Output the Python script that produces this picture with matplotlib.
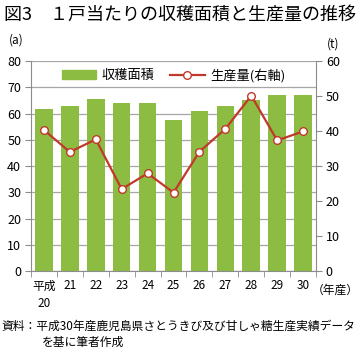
import matplotlib as mpl
mpl.use('Agg')
import matplotlib.pyplot as plt
from matplotlib.lines import Line2D
from matplotlib.patches import Patch

plt.rcParams['font.family'] = ['Noto Sans CJK JP', 'DejaVu Sans']

years = ["平成\n20", "21", "22", "23", "24", "25", "26", "27", "28", "29", "30"]
area = [61.6, 62.9, 65.4, 63.9, 64.1, 57.5, 61.0, 63.0, 65.1, 67.0, 67.0]
output_t = [40.3, 34.0, 37.6, 23.4, 27.9, 22.4, 34.1, 40.6, 50.1, 37.3, 39.9]

bar_color = '#8cbc41'
line_color = '#c0392b'
axis_gray = '#8c8c8c'

fig = plt.figure(figsize=(3.6, 3.5), dpi=100)
ax = fig.add_axes([0.086, 0.2257, 0.792, 0.6])
ax2 = ax.twinx()

x = list(range(len(years)))
ax.bar(x, area, width=0.68, color=bar_color, zorder=2)
ax2.plot(x, output_t, color=line_color, lw=1.6, marker='o', ms=5.5,
         mfc='white', mec=line_color, mew=1.0, zorder=3)

ax.set_xlim(-0.5, len(years) - 0.5)
ax.set_ylim(0, 80)
ax2.set_ylim(0, 60)
ax.set_yticks(range(0, 81, 10))
ax2.set_yticks(range(0, 61, 10))
ax.yaxis.grid(True, color='#a6a6a6', lw=0.9, zorder=0)
ax.set_axisbelow(True)

ax.set_xticks(x)
ax.set_xticklabels(years, fontsize=8.5, linespacing=1.5)
ax.set_xticks([i + 0.5 for i in range(-1, len(years))], minor=True)
ax.tick_params(axis='x', which='major', length=0, pad=6)
ax.tick_params(axis='x', which='minor', length=4, color=axis_gray)
ax.tick_params(axis='y', labelsize=9, length=4, color=axis_gray, pad=3)
ax2.tick_params(axis='y', labelsize=9, length=4, color=axis_gray, pad=3)

for a in (ax, ax2):
    for s in a.spines.values():
        s.set_visible(False)
ax.spines['left'].set_visible(True)
ax.spines['bottom'].set_visible(True)
ax2.spines['right'].set_visible(True)
ax.spines['left'].set_color(axis_gray)
ax.spines['bottom'].set_color(axis_gray)
ax2.spines['right'].set_color(axis_gray)

handles = [Patch(color=bar_color, label='収穫面積'),
           Line2D([], [], color=line_color, lw=1.6, marker='o', ms=5.5,
                  mfc='white', mec=line_color, label='生産量(右軸)')]
leg = ax.legend(handles=handles, loc='upper center', ncol=2, frameon=True,
                fontsize=9.5, bbox_to_anchor=(0.5, 1.0), borderaxespad=0.3,
                handlelength=2.6, columnspacing=1.2, handletextpad=0.4,
                borderpad=0.25, fancybox=False)
leg.get_frame().set_edgecolor('white')
leg.get_frame().set_facecolor('white')
leg.get_frame().set_alpha(1.0)
leg.set_zorder(5)

fig.text(0.012, 0.985, '図3　１戸当たりの収穫面積と生産量の推移',
         fontsize=13, va='top', ha='left')
fig.text(0.025, 0.885, '(a)', fontsize=8.5, va='center', ha='left')
fig.text(0.925, 0.875, '(t)', fontsize=8.5, va='center', ha='center')
fig.text(0.997, 0.172, '（年産）', fontsize=8.5, va='center', ha='right')
fig.text(0.005, 0.068, '資料：平成30年産鹿児島県さとうきび及び甘しゃ糖生産実績データ',
         fontsize=8.5, va='center', ha='left')
fig.text(0.117, 0.022, 'を基に筆者作成', fontsize=8.5, va='center', ha='left')

fig.savefig('out.png', dpi=100)
